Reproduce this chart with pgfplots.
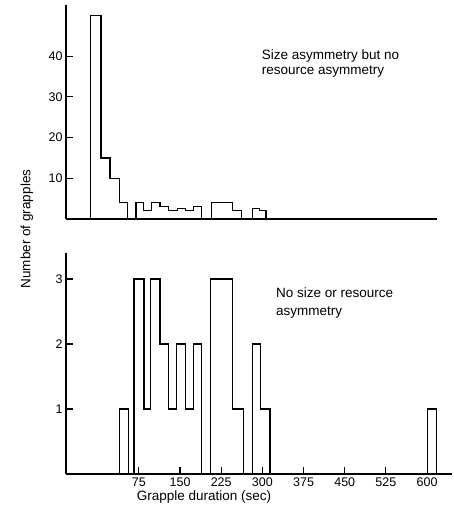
\documentclass[border=0pt]{standalone}
\usepackage{fontspec}
\setmainfont{Liberation Sans}
\usepackage{pgfplots}
\pgfplotsset{compat=1.18}
\begin{document}
\begin{tikzpicture}
\useasboundingbox (0,0) rectangle (453pt,510pt);
\pgfplotsset{
  hist/.style={
    scale only axis,
    axis x line=bottom, axis y line=left,
    axis line style={-, line width=1.1pt, black},
    tick align=inside, major tick length=7pt,
    tick style={black, line width=1.1pt},
    tick label style={font=\fontsize{12.5}{14}\selectfont},
    xticklabel style={yshift=-0.5pt},
    /pgf/number format/assume math mode=true,
    clip=false,
  }
}
\begin{axis}[hist, at={(66pt,291pt)}, anchor=south west, width=371pt, height=214pt,
  xmin=-57.7, xmax=618, ymin=0, ymax=52.6, xtick=\empty, ytick={10,20,30,40}]
\addplot[const plot, line width=1.1pt, black, no marks] coordinates {
(-12.8,0) (-12.8,50) (6.0,15) (22.4,10) (39.3,4) (53.9,0) (69.8,4) (83.1,2) (98.4,4)
(113.5,3) (128.6,2) (145.0,2.5) (160.3,2) (174.1,3) (189.4,0) (207.7,4) (245.9,2)
(262.3,0) (281.6,2.5) (294.4,2) (306.6,0)
};
\end{axis}
\begin{axis}[hist, at={(66pt,36pt)}, anchor=south west, width=386pt, height=221pt,
  xmin=-57.7, xmax=645.4, ymin=0, ymax=3.4, xtick={75,150,225,300,375,450,525,600}, ytick={1,2,3}]
\addplot[const plot, line width=1.1pt, black, no marks] coordinates {
(39.3,0) (39.3,1) (55.7,0) (66.1,3) (84.3,1) (96.5,3) (113.5,2) (128.6,1) (143.9,2)
(160.3,1) (174.1,2) (189.4,0) (205.8,3) (245.9,1) (265.2,0) (281.6,2) (296.9,1)
(313.8,0) (601,1) (617.5,0)
};
\end{axis}
\node[rotate=90, font=\fontsize{13.5}{16}\selectfont] at (27pt,281pt) {Number of grapples};
\node[anchor=base, inner sep=0pt, font=\fontsize{13.5}{16}\selectfont] at (204pt,9.8pt) {Grapple duration (sec)};
\node[anchor=base west, inner sep=0pt, font=\fontsize{13.5}{16}\selectfont] at (261.7pt,450.7pt) {Size asymmetry but no};
\node[anchor=base west, inner sep=0pt, font=\fontsize{13.5}{16}\selectfont] at (261.7pt,435pt) {resource asymmetry};
\node[anchor=base west, inner sep=0pt, font=\fontsize{13.5}{16}\selectfont] at (276pt,212.3pt) {No size or resource};
\node[anchor=base west, inner sep=0pt, font=\fontsize{13.5}{16}\selectfont] at (276pt,194.3pt) {asymmetry};
\end{tikzpicture}
\end{document}
